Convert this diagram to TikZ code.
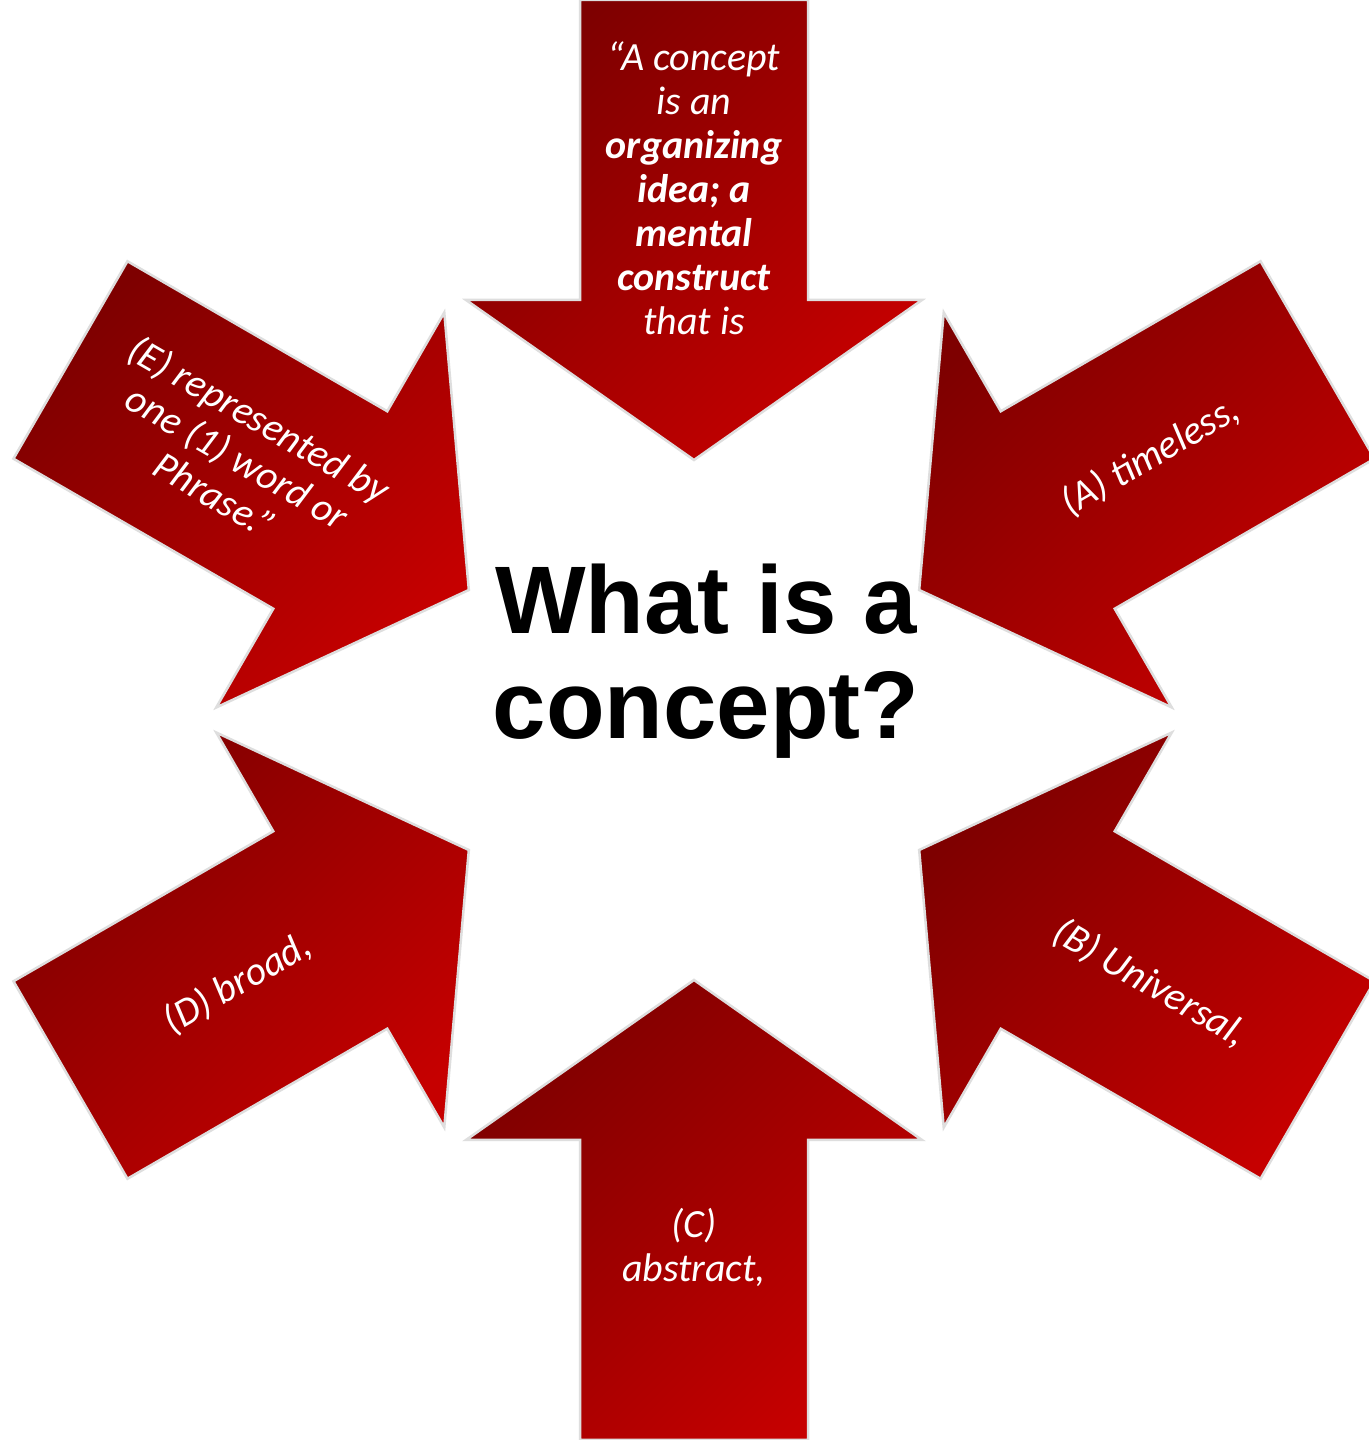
\documentclass[tikz,border=0pt]{standalone}
\usepackage{fontspec}
\newfontfamily\calfont{Carlito}
\newfontfamily\headfont{Liberation Sans}
\definecolor{rdark}{HTML}{7E0000}
\definecolor{rbright}{HTML}{C60000}
\definecolor{rim}{HTML}{DEDEDE}
\tikzset{
  arrowshape/.style={draw=rim, line width=2.5pt, line join=miter,
    left color=rdark, right color=rbright, shading angle=45},
  arrowtext/.style={text=white, align=center, inner sep=0pt,
    font=\calfont\itshape\fontsize{40}{44}\selectfont},
  headline/.style={text=black, align=center, inner sep=0pt,
    font=\headfont\bfseries\fontsize{96}{105}\selectfont}
}
\begin{document}
\begin{tikzpicture}[x=1pt,y=1pt]
\useasboundingbox (0,0) rectangle (1368,1440);
\fill[white] (0,0) rectangle (1368,1440);
\coordinate (hub) at (694,720);
% six block arrows pointing at the hub
\foreach \n/\a in {T/90, A/30, B/-30, C/-90, D/210, E/150} {
  \begin{scope}[shift={(hub)}, rotate=\a]
    \coordinate (\n1) at (260,0);
    \coordinate (\n2) at (420,228);
    \coordinate (\n3) at (420,114);
    \coordinate (\n4) at (720,114);
    \coordinate (\n5) at (720,-114);
    \coordinate (\n6) at (420,-114);
    \coordinate (\n7) at (420,-228);
    \coordinate (\n-lbl) at (527,0);
  \end{scope}
  \path[arrowshape] (\n1) -- (\n2) -- (\n3) -- (\n4) -- (\n5) -- (\n6) -- (\n7) -- cycle;
}
% labels on the arrows
\node[arrowtext] (tT) at ([yshift=5pt]T-lbl) {“A concept\\is an\\\textbf{organizing}\\\textbf{idea; a}\\\textbf{mental}\\\textbf{construct}\\that is};
\node[arrowtext, rotate=30] (tA) at (A-lbl) {(A) timeless,};
\node[arrowtext, rotate=-30] (tB) at (B-lbl) {(B) Universal,};
\node[arrowtext] (tC) at (C-lbl) {(C)\\abstract,};
\node[arrowtext, rotate=30] (tD) at (D-lbl) {(D) broad,};
\node[arrowtext, rotate=-30] (tE) at (E-lbl) {(E) represented by\\one (1) word or\\Phrase.”};
% central question
\node[headline] (title) at (706,779) {What is a\\concept?};
\end{tikzpicture}
\end{document}
